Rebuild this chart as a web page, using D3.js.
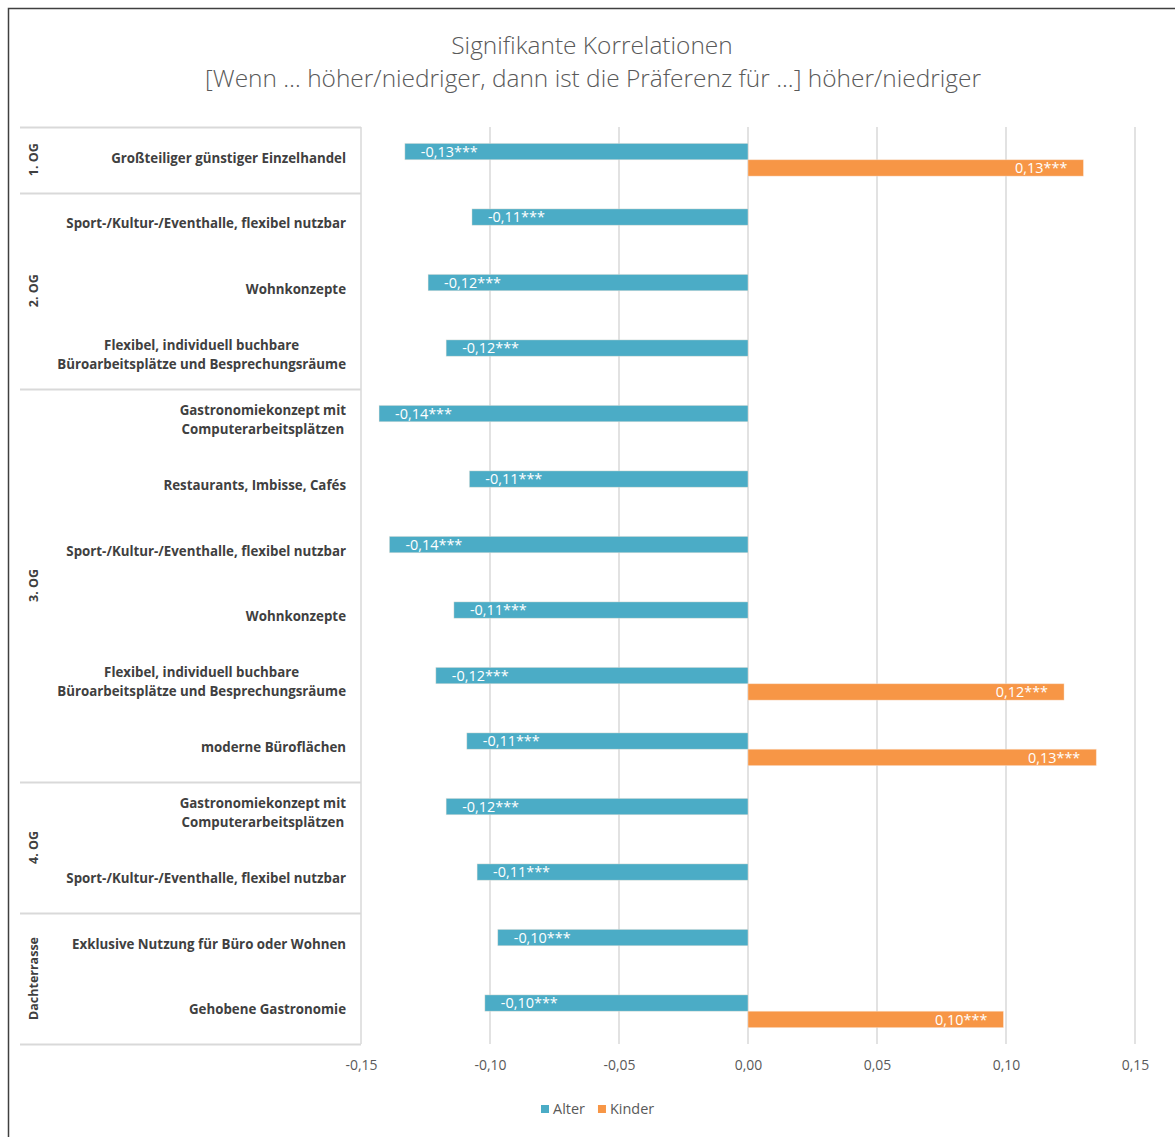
<!DOCTYPE html>
<html><head><meta charset="utf-8">
<script src="https://cdn.jsdelivr.net/npm/d3@7"></script>
<style>body{margin:0;background:#fff}svg{display:block}</style>
</head><body>
<svg id="c" width="1175" height="1137"></svg>
<script>
const titleLines = ["Signifikante Korrelationen","[Wenn … höher/niedriger, dann ist die Präferenz für ...] höher/niedriger"];
const groups = ["1. OG","2. OG","3. OG","4. OG","Dachterrasse"];
const categories = [
  "Großteiliger günstiger Einzelhandel",
  "Sport-/Kultur-/Eventhalle, flexibel nutzbar",
  "Wohnkonzepte",
  "Flexibel, individuell buchbare\nBüroarbeitsplätze und Besprechungsräume",
  "Gastronomiekonzept mit\nComputerarbeitsplätzen",
  "Restaurants, Imbisse, Cafés",
  "Sport-/Kultur-/Eventhalle, flexibel nutzbar",
  "Wohnkonzepte",
  "Flexibel, individuell buchbare\nBüroarbeitsplätze und Besprechungsräume",
  "moderne Büroflächen",
  "Gastronomiekonzept mit\nComputerarbeitsplätzen",
  "Sport-/Kultur-/Eventhalle, flexibel nutzbar",
  "Exklusive Nutzung für Büro oder Wohnen",
  "Gehobene Gastronomie"
];
const categoryGroup = [0,1,1,1,2,2,2,2,2,2,3,3,4,4];
const seriesNames = ["Alter","Kinder"];
const alterValues = [-0.133,-0.107,-0.124,-0.117,-0.143,-0.108,-0.139,-0.114,-0.121,-0.109,-0.117,-0.105,-0.097,-0.102];
const alterLabels = ["-0,13***","-0,11***","-0,12***","-0,12***","-0,14***","-0,11***","-0,14***","-0,11***","-0,12***","-0,11***","-0,12***","-0,11***","-0,10***","-0,10***"];
const kinderValues = [0.130,null,null,null,null,null,null,null,0.1225,0.135,null,null,null,0.099];
const kinderLabels = ["0,13***",null,null,null,null,null,null,null,"0,12***","0,13***",null,null,null,"0,10***"];
const tickValues = [-0.15,-0.10,-0.05,0,0.05,0.10,0.15];
const tickLabels = ["-0,15","-0,10","-0,05","0,00","0,05","0,10","0,15"];
const colors = ["#4BACC6","#F79646"];

const svg = d3.select("#c");
const FONT = "'Open Sans', 'Noto Sans', sans-serif";

// frame
svg.append("path").attr("d","M8.5,1137 L8.5,8.5 L1175,8.5").attr("fill","none").attr("stroke","#404040").attr("stroke-width",1.5);

function fitText(sel, target){
  const w = sel.node().getComputedTextLength();
  const fs = parseFloat(sel.attr("font-size"));
  sel.attr("font-size", (fs*target/w).toFixed(2));
}
function fitSize(str, weight, target){
  const p = svg.append("text").attr("font-family",FONT).attr("font-weight",weight).attr("font-size",13).text(str);
  const fs = 13*target/p.node().getComputedTextLength();
  p.remove();
  return fs;
}

// title
const t1 = svg.append("text").attr("x",592).attr("y",54).attr("text-anchor","middle")
  .attr("font-family",FONT).attr("font-weight",300).attr("font-size",22).attr("fill","#595959").text(titleLines[0]);
const t2 = svg.append("text").attr("x",593).attr("y",87).attr("text-anchor","middle")
  .attr("font-family",FONT).attr("font-weight",300).attr("font-size",22).attr("fill","#595959").text(titleLines[1]);
fitText(t2, 776);
t1.attr("font-size", t2.attr("font-size"));

const x = d3.scaleLinear().domain([-0.15,0.15]).range([361,1135]);
const y = d3.scaleBand().domain(d3.range(categories.length)).range([127,1044]).padding(0);
const ys = d3.scaleBand().domain(seriesNames).range([0,y.bandwidth()]).paddingInner(0).paddingOuter(1);

// gridlines
svg.append("g").selectAll("line").data(tickValues).join("line")
  .attr("x1",d=>x(d)).attr("x2",d=>x(d)).attr("y1",127).attr("y2",1044)
  .attr("stroke","#d9d9d9").attr("stroke-width",1.5);

// axis labels
const axisFS = fitSize("-0,15", 400, 32);
const axis = d3.axisBottom(x).tickValues(tickValues).tickSize(0).tickPadding(0).tickFormat((d,i)=>tickLabels[i]);
const ag = svg.append("g").attr("transform","translate(0,1065)").call(axis);
ag.select(".domain").remove();
ag.selectAll("text").attr("font-family",FONT).attr("font-size",axisFS).attr("fill","#595959").attr("dy","0.35em");

// group dividers
const boundaries = [0];
categoryGroup.forEach((g,i)=>{ if(i>0 && g!==categoryGroup[i-1]) boundaries.push(i); });
const divY = boundaries.map(i=>y(i)).concat([1044]);
svg.append("g").selectAll("line").data(divY).join("line")
  .attr("x1",20).attr("x2",361).attr("y1",d=>Math.round(d)+0.5).attr("y2",d=>Math.round(d)+0.5)
  .attr("stroke","#d9d9d9").attr("stroke-width",2);

// group labels
groups.forEach((g,gi)=>{
  const idx = categoryGroup.map((v,i)=>v===gi?i:-1).filter(i=>i>=0);
  const cy = (y(idx[0]) + y(idx[idx.length-1]) + y.bandwidth())/2;
  svg.append("text").attr("transform",`translate(34,${cy}) rotate(-90)`)
    .attr("text-anchor","middle").attr("dy","0.35em")
    .attr("font-family",FONT).attr("font-weight",700).attr("font-size",12.5).attr("fill","#404040").text(g);
});

// category labels
const catFS = fitSize(categories[0], 700, 235);
categories.forEach((c,i)=>{
  const lines = c.split("\n");
  const cy = y(i) + y.bandwidth()/2 - 1.5;
  const g = svg.append("g");
  const texts = lines.map((l,li)=> g.append("text")
    .attr("font-family",FONT).attr("font-weight",700).attr("font-size",catFS).attr("fill","#404040")
    .attr("y", cy + (li - (lines.length-1)/2)*19).attr("dy","0.35em").text(l));
  const maxW = d3.max(texts, t=>t.node().getComputedTextLength());
  texts.forEach(t=>t.attr("text-anchor","middle").attr("x",346-maxW/2));
});

// bars
const series = [
  {name:"Alter", values:alterValues, labels:alterLabels, color:colors[0]},
  {name:"Kinder", values:kinderValues, labels:kinderLabels, color:colors[1]}
];
const valFS = fitSize("-0,13***", 400, 57);
series.forEach(s=>{
  const data = s.values.map((v,i)=>({v,i,l:s.labels[i]})).filter(d=>d.v!==null);
  const g = svg.append("g");
  g.selectAll("rect").data(data).join("rect")
    .attr("x",d=>Math.min(x(0),x(d.v))).attr("width",d=>Math.abs(x(d.v)-x(0)))
    .attr("y",d=>y(d.i)+ys(s.name)).attr("height",ys.bandwidth())
    .attr("fill",s.color).attr("stroke","#fbe9dc").attr("stroke-opacity",0.5).attr("stroke-width",0.8);
  g.selectAll("text").data(data).join("text")
    .attr("x",d=>d.v<0 ? x(d.v)+16 : x(d.v)-16)
    .attr("text-anchor",d=>d.v<0?"start":"end")
    .attr("y",d=>y(d.i)+ys(s.name)+ys.bandwidth()/2).attr("dy","0.36em")
    .attr("font-family",FONT).attr("font-size",valFS).attr("fill","#fff").text(d=>d.l);
});

// legend
const legFS = fitSize("Alter", 400, 32);
const lg = svg.append("g").attr("transform","translate(541,1109)");
let lx = 0;
series.forEach(s=>{
  lg.append("rect").attr("x",lx).attr("y",-4).attr("width",8).attr("height",8).attr("fill",s.color);
  const t = lg.append("text").attr("x",lx+12).attr("y",0).attr("dy","0.35em")
    .attr("font-family",FONT).attr("font-size",legFS).attr("fill","#595959").text(s.name);
  lx += 12 + t.node().getComputedTextLength() + 13;
});
</script>
</body></html>
